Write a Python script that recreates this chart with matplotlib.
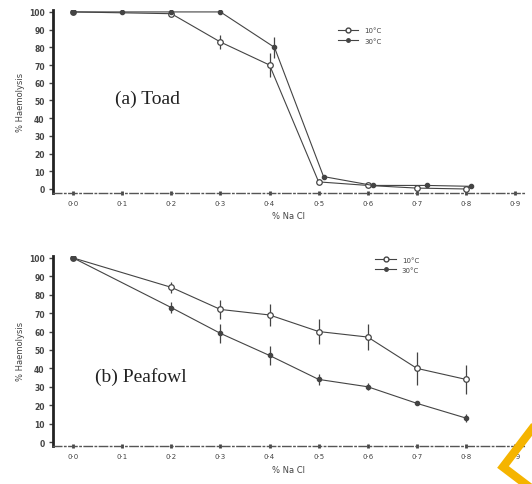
import numpy as np
import matplotlib.pyplot as plt
from matplotlib.lines import Line2D

# Toad data (% haemolysis vs % NaCl)
toad_x10 = [0.0, 0.2, 0.3, 0.4, 0.5, 0.6, 0.7, 0.8]
toad_y10 = [100, 99, 83, 70, 4, 2, 0.5, 0]
toad_e10 = [0, 0, 4, 7, 0, 0, 0, 0]
toad_x30 = [0.0, 0.1, 0.2, 0.3, 0.41, 0.51, 0.61, 0.72, 0.81]
toad_y30 = [100, 100, 100, 100, 80, 7, 2, 2, 1.5]
toad_e30 = [0, 0, 0, 0, 6, 0, 0, 0, 0]

# Peafowl data
pea_x10 = [0.0, 0.2, 0.3, 0.4, 0.5, 0.6, 0.7, 0.8]
pea_y10 = [100, 84, 72, 69, 60, 57, 40, 34]
pea_e10 = [0, 3, 5, 6, 7, 7, 9, 8]
pea_x30 = [0.0, 0.2, 0.3, 0.4, 0.5, 0.6, 0.7, 0.8]
pea_y30 = [100, 73, 59, 47, 34, 30, 21, 13]
pea_e30 = [0, 3, 5, 5, 3, 2, 1, 2]

xticks = np.arange(0, 1.0, 0.1)
xticklabels = ["0·0", "0·1", "0·2", "0·3", "0·4", "0·5", "0·6", "0·7", "0·8", "0·9"]
yticks = np.arange(0, 101, 10)

ink = "#444444"

fig = plt.figure(figsize=(5.32, 4.85), dpi=100)
ax1 = fig.add_axes([0.0996, 0.601, 0.887, 0.376])
ax2 = fig.add_axes([0.0996, 0.079, 0.887, 0.391])


def draw_panel(ax, x10, y10, e10, x30, y30, e30, label, lx, ly):
    ax.errorbar(x10, y10, yerr=e10, color=ink, lw=0.8, elinewidth=0.9,
                marker="o", ms=4, mfc="white", mec=ink, mew=0.9, capsize=0)
    ax.errorbar(x30, y30, yerr=e30, color=ink, lw=0.8, elinewidth=0.9,
                marker="o", ms=3, mfc=ink, mec=ink, capsize=0)
    ax.set_xlim(-0.041, 0.92)
    ax.set_ylim(-2, 101)
    ax.set_xticks(xticks)
    ax.set_xticklabels(xticklabels, fontsize=5, color=ink)
    ax.set_yticks(yticks)
    ax.set_yticklabels([str(v) for v in yticks], fontsize=5.5, color=ink,
                       fontweight="bold")
    ax.tick_params(axis="x", length=2.5, width=2, direction="inout", pad=4,
                   color=ink)
    ax.tick_params(axis="y", length=3, width=1, direction="out", pad=3,
                   color=ink)
    for s in ["top", "right"]:
        ax.spines[s].set_visible(False)
    ax.spines["left"].set_linewidth(2)
    ax.spines["left"].set_color("#222222")
    ax.spines["bottom"].set_linestyle((0, (6, 2, 1, 2)))
    ax.spines["bottom"].set_color("#555555")
    ax.spines["bottom"].set_linewidth(1)
    ax.set_xlabel("% Na Cl", fontsize=6, color=ink, labelpad=4)
    ax.set_ylabel("% Haemolysis", fontsize=6, color=ink, labelpad=3)
    ax.text(lx, ly, label, family="Liberation Serif", fontsize=14,
            color="#222222", va="center", ha="left")


draw_panel(ax1, toad_x10, toad_y10, toad_e10, toad_x30, toad_y30, toad_e30,
           "(a) Toad", 0.085, 51)
draw_panel(ax2, pea_x10, pea_y10, pea_e10, pea_x30, pea_y30, pea_e30,
           "(b) Peafowl", 0.045, 36)

handles = [
    Line2D([], [], color=ink, lw=0.8, marker="o", ms=3.5, mfc="white", mec=ink),
    Line2D([], [], color=ink, lw=0.8, marker="o", ms=2.5, mfc=ink, mec=ink),
]
for ax, anchor in [(ax1, (0.59, 0.94)), (ax2, (0.67, 1.03))]:
    ax.legend(handles, ["10°C", "30°C"], loc="upper left", bbox_to_anchor=anchor,
              frameon=False, fontsize=5, handlelength=3, labelspacing=0.6,
              labelcolor=ink)

# orange corner mark from the source screenshot
fig.add_artist(Line2D([532 / 532, 503 / 532, 532 / 532],
                      [1 - 430 / 485, 1 - 468 / 485, 1 - 490 / 485],
                      transform=fig.transFigure, color="#f5b400", lw=6,
                      solid_joinstyle="miter"))

fig.savefig("out.png", dpi=100)
